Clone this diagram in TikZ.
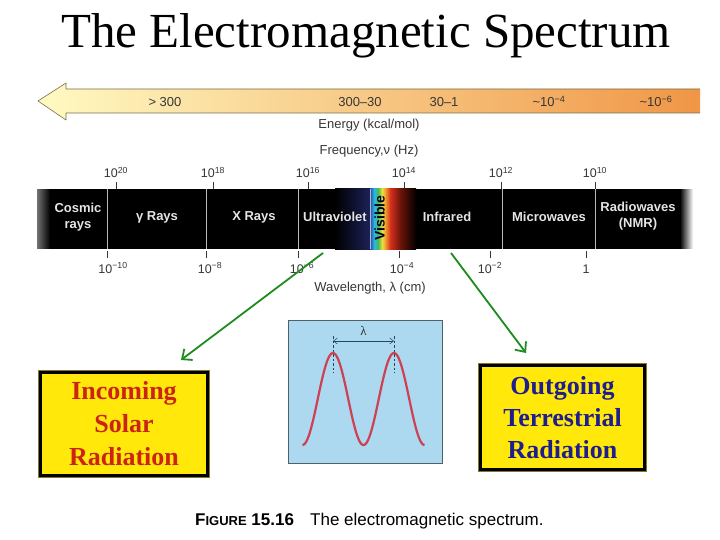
\documentclass[tikz,border=0pt]{standalone}
\usepackage{fontspec}
\setmainfont{Liberation Sans}
\newfontfamily\titlefont{Liberation Serif}
\usetikzlibrary{arrows.meta}
\definecolor{arrowL}{RGB}{255,250,195}
\definecolor{arrowM}{RGB}{250,218,125}
\definecolor{arrowR}{RGB}{240,150,70}
\definecolor{arrowEdge}{RGB}{120,110,70}
\definecolor{barText}{RGB}{228,228,228}
\definecolor{tickGray}{RGB}{55,55,55}
\definecolor{waveBlue}{RGB}{172,216,240}
\definecolor{waveEdge}{RGB}{80,95,105}
\definecolor{waveRed}{RGB}{205,65,85}
\definecolor{dashBlue}{RGB}{40,70,90}
\definecolor{greenArrow}{RGB}{30,140,30}
\definecolor{boxYellow}{RGB}{255,232,10}
\definecolor{boxOlive}{RGB}{130,120,40}
\definecolor{inRed}{RGB}{205,35,20}
\definecolor{outBlue}{RGB}{30,30,140}
\definecolor{uvR}{RGB}{28,34,88}
\definecolor{vBlue}{RGB}{40,70,190}
\definecolor{vCyan}{RGB}{40,185,225}
\definecolor{vGreen}{RGB}{70,185,90}
\definecolor{vYellow}{RGB}{235,225,60}
\definecolor{vOrange}{RGB}{240,140,40}
\definecolor{vRed}{RGB}{215,50,30}
\definecolor{vDark}{RGB}{110,20,10}
\tikzset{
  elbl/.style={font=\fontsize{13}{15}\selectfont, text=tickGray, inner sep=0, anchor=base},
  ticklbl/.style={font=\fontsize{12.5}{14}\selectfont, text=tickGray, inner sep=0, anchor=base},
  bandlbl/.style={font=\bfseries\fontsize{13}{16}\selectfont, text=barText, align=center, inner sep=0},
  tickline/.style={draw=tickGray, line width=0.9pt},
  divline/.style={draw=gray!55, line width=0.7pt},
  greenarr/.style={draw=greenArrow, line width=1.8pt, -{Straight Barb[length=8pt,width=14pt,line width=1.8pt]}},
  radbox/.style={draw=black, line width=3pt, fill=boxYellow, align=center, inner sep=0,
     font=\titlefont\bfseries\fontsize{26}{33}\selectfont},
}
\begin{document}
\begin{tikzpicture}[x=1pt,y=-1pt]
\useasboundingbox (0,0) rectangle (720,540);
\fill[white] (0,0) rectangle (720,540);
% title
\node[font=\titlefont\fontsize{49}{50}\selectfont, inner sep=0, anchor=base] (title) at (366,48) {The Electromagnetic Spectrum};
% energy arrow
\shade[left color=arrowL, middle color=arrowM, right color=arrowR]
  (38,101) -- (66,83) -- (66,89) -- (700,89) -- (700,113) -- (66,113) -- (66,120) -- cycle;
\draw[arrowEdge, line width=0.6pt, line join=round]
  (700,89) -- (66,89) -- (66,83) -- (38,101) -- (66,120) -- (66,113) -- (700,113);
\node[elbl] (e1) at (165,106.5) {> 300};
\node[elbl] (e2) at (360,106.5) {300–30};
\node[elbl] (e3) at (444,106.5) {30–1};
\node[elbl] (e4) at (549,106.5) {\textasciitilde10\textsuperscript{−4}};
\node[elbl] (e5) at (656,106.5) {\textasciitilde10\textsuperscript{−6}};
\node[elbl] (energy) at (369,129) {Energy (kcal/mol)};
\node[elbl] (freq) at (369,155) {Frequency,ν (Hz)};
% frequency ticks
\foreach \x/\lab [count=\i] in {116/20,213/18,308/16,404/14,501/12,595/10}{
  \node[ticklbl] (f\i) at (\x,178) {10\textsuperscript{\lab}};
  \draw[tickline] (\x,182) -- (\x,189);
}
% spectrum bar
\fill[black] (50,189) rectangle (680,249);
\foreach \i in {0,...,13}{
  \pgfmathsetmacro\p{45-\i*45/13}
  \fill[white!\p!black] (37+\i,189) rectangle (38.2+\i,249);
}
\foreach \i in {0,...,13}{
  \pgfmathsetmacro\p{100-\i*100/13}
  \fill[black!\p!white] (680+\i,189) rectangle (681.2+\i,249);
}
\shade[left color=black, right color=uvR] (335,189) rectangle (370.3,249);
\shade[left color=vBlue, right color=vCyan] (370,189) rectangle (374.3,249);
\shade[left color=vCyan, right color=vGreen] (374,189) rectangle (378.3,249);
\shade[left color=vGreen, right color=vYellow] (378,189) rectangle (382.3,249);
\shade[left color=vYellow, right color=vOrange] (382,189) rectangle (386.3,249);
\shade[left color=vOrange, right color=vRed] (386,189) rectangle (390.3,249);
\shade[left color=vRed, right color=vDark] (390,189) rectangle (400.3,249);
\shade[left color=vDark, right color=black] (400,189) rectangle (416,249);
\foreach \x in {107,206,298,370,502,595}{
  \draw[divline] (\x,189) -- (\x,249);
}
\node[bandlbl] (cosmic) at (78,217) {Cosmic\\rays};
\node[bandlbl] (gamma) at (157,217) {γ Rays};
\node[bandlbl] (xray) at (254,217) {X Rays};
\node[bandlbl] (uv) at (335,217) {Ultraviolet};
\node[bandlbl, text=black!85!blue, font=\bfseries\fontsize{14}{16}\selectfont, rotate=90] (visible) at (379.5,218) {Visible};
\node[bandlbl] (ir) at (447,217) {Infrared};
\node[bandlbl] (micro) at (549,217) {Microwaves};
\node[bandlbl] (radio) at (638,216) {Radiowaves\\(NMR)};
% wavelength ticks
\foreach \x/\lab [count=\i] in {113/−10,210/−8,302/−6,402/−4,490/−2}{
  \node[ticklbl] (w\i) at (\x,273) {10\textsuperscript{\lab}};
}
\node[ticklbl] (w6) at (586,273) {1};
\foreach \x in {107,206,298,399,490,586}{
  \draw[tickline] (\x,251) -- (\x,258);
}
\node[elbl] (wavelength) at (370,291) {Wavelength, λ (cm)};
% wave box
\node[draw=waveEdge, line width=1.2pt, fill=waveBlue, minimum width=154pt, minimum height=143pt, inner sep=0] (wavebox) at (365.5,392) {};
\draw[waveRed, line width=2.2pt] plot[domain=302.5:424.5, samples=120, smooth] (\x, {399-46*cos(5.9016*(\x-333))});
\coordinate (d1t) at (333,336);
\coordinate (d1b) at (333,373);
\coordinate (d2t) at (394,336);
\coordinate (d2b) at (394,373);
\draw[dashBlue, line width=0.6pt, dash pattern=on 2.5pt off 2pt] (d1t) -- (d1b);
\draw[dashBlue, line width=0.6pt, dash pattern=on 2.5pt off 2pt] (d2t) -- (d2b);
\coordinate (la) at (333,341);
\coordinate (lb) at (394,341);
\draw[dashBlue, line width=0.5pt, {Straight Barb[length=4pt,width=6pt]}-{Straight Barb[length=4pt,width=6pt]}] (la) -- (lb);
\node[font=\titlefont\fontsize{13}{14}\selectfont, inner sep=0, text=black!80] (lambda) at (363.5,331) {λ};
% radiation boxes
\node[radbox, text=inRed, minimum width=167pt, minimum height=103pt] (incoming) at (124,424) {Incoming\\Solar\\Radiation};
\draw[boxOlive, line width=1pt] ([shift={(-0.6,-0.6)}]incoming.north west) rectangle ([shift={(0.6,0.6)}]incoming.south east);
\node[radbox, text=outBlue, font=\titlefont\bfseries\fontsize{26}{32}\selectfont, minimum width=164pt, minimum height=104pt] (outgoing) at (562.5,417.5) {Outgoing\\Terrestrial\\Radiation};
\draw[boxOlive, line width=1pt] ([shift={(-0.6,-0.6)}]outgoing.north west) rectangle ([shift={(0.6,0.6)}]outgoing.south east);
% green arrows
\coordinate (uvsrc) at (323,253);
\coordinate (insink) at (181,360);
\coordinate (irsrc) at (451,253);
\coordinate (outsink) at (526,353);
\draw[greenarr] (uvsrc) -- (insink);
\draw[greenarr] (irsrc) -- (outsink);
% caption
\node[inner sep=0, anchor=base west, font=\bfseries\fontsize{17}{18}\selectfont] (capfig) at (195,525) {F{\fontsize{13}{14}\selectfont IGURE} 15.16};
\node[inner sep=0, anchor=base west, font=\fontsize{17}{18}\selectfont] (captxt) at (310,525) {The electromagnetic spectrum.};
\end{tikzpicture}
\end{document}
